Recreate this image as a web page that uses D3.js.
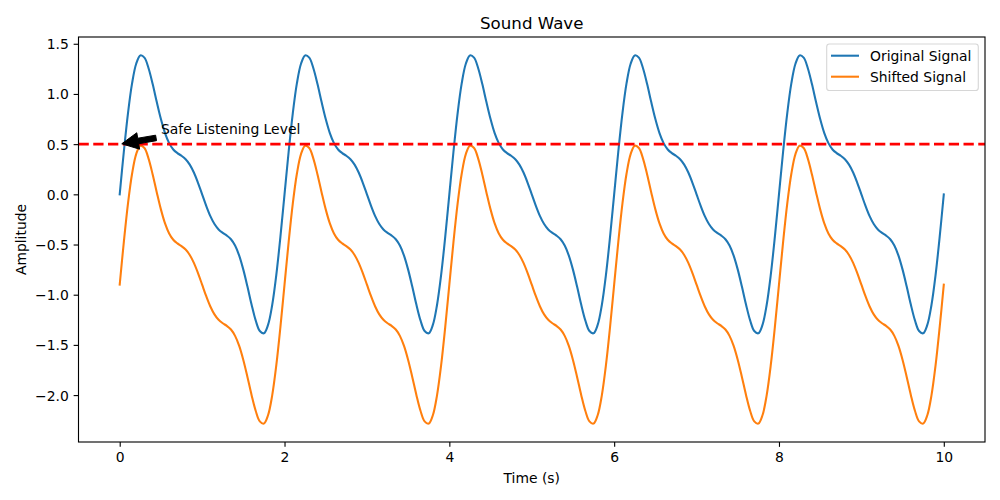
<!DOCTYPE html>
<html>
<head>
<meta charset="utf-8">
<script src="https://cdn.jsdelivr.net/npm/d3@7"></script>
<style>
  html, body { margin: 0; padding: 0; background: #fff; }
  svg { display: block; font-family: "DejaVu Sans", sans-serif; }
</style>
</head>
<body>
<svg id="chart" width="1000" height="500"></svg>
<script>
// ---- data ----
const chartTitle = "Sound Wave";
const xLabel = "Time (s)";
const yLabel = "Amplitude";
const seriesNames = ["Original Signal", "Shifted Signal"];
const seriesColors = ["#1f77b4", "#ff7f0e"];
const timeStart = 0;
const timeStep = 0.05;

const originalSignal = [
  0.000, 0.424, 0.805, 1.105, 1.301, 1.384, 1.362, 1.256, 1.098, 0.919, 0.750, 0.610, 0.510, 0.447, 0.411, 0.384, 0.350, 0.296, 0.217, 0.115,
  0.000, -0.115, -0.217, -0.296, -0.350, -0.384, -0.411, -0.447, -0.510, -0.610, -0.750, -0.919, -1.098, -1.256, -1.362, -1.384, -1.301, -1.105, -0.805, -0.424,
  0.000, 0.424, 0.805, 1.105, 1.301, 1.384, 1.362, 1.256, 1.098, 0.919, 0.750, 0.610, 0.510, 0.447, 0.411, 0.384, 0.350, 0.296, 0.217, 0.115,
  0.000, -0.115, -0.217, -0.296, -0.350, -0.384, -0.411, -0.447, -0.510, -0.610, -0.750, -0.919, -1.098, -1.256, -1.362, -1.384, -1.301, -1.105, -0.805, -0.424,
  0.000, 0.424, 0.805, 1.105, 1.301, 1.384, 1.362, 1.256, 1.098, 0.919, 0.750, 0.610, 0.510, 0.447, 0.411, 0.384, 0.350, 0.296, 0.217, 0.115,
  0.000, -0.115, -0.217, -0.296, -0.350, -0.384, -0.411, -0.447, -0.510, -0.610, -0.750, -0.919, -1.098, -1.256, -1.362, -1.384, -1.301, -1.105, -0.805, -0.424,
  0.000, 0.424, 0.805, 1.105, 1.301, 1.384, 1.362, 1.256, 1.098, 0.919, 0.750, 0.610, 0.510, 0.447, 0.411, 0.384, 0.350, 0.296, 0.217, 0.115,
  0.000, -0.115, -0.217, -0.296, -0.350, -0.384, -0.411, -0.447, -0.510, -0.610, -0.750, -0.919, -1.098, -1.256, -1.362, -1.384, -1.301, -1.105, -0.805, -0.424,
  0.000, 0.424, 0.805, 1.105, 1.301, 1.384, 1.362, 1.256, 1.098, 0.919, 0.750, 0.610, 0.510, 0.447, 0.411, 0.384, 0.350, 0.296, 0.217, 0.115,
  0.000, -0.115, -0.217, -0.296, -0.350, -0.384, -0.411, -0.447, -0.510, -0.610, -0.750, -0.919, -1.098, -1.256, -1.362, -1.384, -1.301, -1.105, -0.805, -0.424,
  0.000
];

const shiftedSignal = [
  -0.900, -0.476, -0.095, 0.205, 0.401, 0.484, 0.462, 0.356, 0.198, 0.019, -0.150, -0.290, -0.390, -0.453, -0.489, -0.516, -0.550, -0.604, -0.683, -0.785,
  -0.900, -1.015, -1.117, -1.196, -1.250, -1.284, -1.311, -1.347, -1.410, -1.510, -1.650, -1.819, -1.998, -2.156, -2.262, -2.284, -2.201, -2.005, -1.705, -1.324,
  -0.900, -0.476, -0.095, 0.205, 0.401, 0.484, 0.462, 0.356, 0.198, 0.019, -0.150, -0.290, -0.390, -0.453, -0.489, -0.516, -0.550, -0.604, -0.683, -0.785,
  -0.900, -1.015, -1.117, -1.196, -1.250, -1.284, -1.311, -1.347, -1.410, -1.510, -1.650, -1.819, -1.998, -2.156, -2.262, -2.284, -2.201, -2.005, -1.705, -1.324,
  -0.900, -0.476, -0.095, 0.205, 0.401, 0.484, 0.462, 0.356, 0.198, 0.019, -0.150, -0.290, -0.390, -0.453, -0.489, -0.516, -0.550, -0.604, -0.683, -0.785,
  -0.900, -1.015, -1.117, -1.196, -1.250, -1.284, -1.311, -1.347, -1.410, -1.510, -1.650, -1.819, -1.998, -2.156, -2.262, -2.284, -2.201, -2.005, -1.705, -1.324,
  -0.900, -0.476, -0.095, 0.205, 0.401, 0.484, 0.462, 0.356, 0.198, 0.019, -0.150, -0.290, -0.390, -0.453, -0.489, -0.516, -0.550, -0.604, -0.683, -0.785,
  -0.900, -1.015, -1.117, -1.196, -1.250, -1.284, -1.311, -1.347, -1.410, -1.510, -1.650, -1.819, -1.998, -2.156, -2.262, -2.284, -2.201, -2.005, -1.705, -1.324,
  -0.900, -0.476, -0.095, 0.205, 0.401, 0.484, 0.462, 0.356, 0.198, 0.019, -0.150, -0.290, -0.390, -0.453, -0.489, -0.516, -0.550, -0.604, -0.683, -0.785,
  -0.900, -1.015, -1.117, -1.196, -1.250, -1.284, -1.311, -1.347, -1.410, -1.510, -1.650, -1.819, -1.998, -2.156, -2.262, -2.284, -2.201, -2.005, -1.705, -1.324,
  -0.900
];

const xTicks = [0, 2, 4, 6, 8, 10];
const yTicks = [-2.0, -1.5, -1.0, -0.5, 0.0, 0.5, 1.0, 1.5];
const safeLevel = 0.5;
const annotationText = "Safe Listening Level";
const annotationPoint = [0, 0.5];
const annotationTextPos = [0.5, 0.6];

// ---- layout ----
const svg = d3.select("#chart");
const plot = { left: 78.5, right: 985, top: 37, bottom: 442 };
const fs = 13.9; // 10pt at 100 dpi

const times = originalSignal.map((_, i) => timeStart + i * timeStep);
const tMin = d3.min(times), tMax = d3.max(times);
const tPad = (tMax - tMin) * 0.05;
const allVals = originalSignal.concat(shiftedSignal);
const vMin = d3.min(allVals), vMax = d3.max(allVals);
const vPad = (vMax - vMin) * 0.05;

const x = d3.scaleLinear().domain([tMin - tPad, tMax + tPad]).range([plot.left, plot.right]);
const y = d3.scaleLinear().domain([vMin - vPad, vMax + vPad]).range([plot.bottom, plot.top]);

const fmtMinus = s => s.replace("-", "\u2212");

// clip
svg.append("defs").append("clipPath").attr("id", "clip")
  .append("rect").attr("x", plot.left).attr("y", plot.top)
  .attr("width", plot.right - plot.left).attr("height", plot.bottom - plot.top);

// lines
const lineGen = vals => d3.line()
  .x((d, i) => x(times[i]))
  .y(d => y(d))
  .curve(d3.curveCatmullRom.alpha(0.5))(vals);

const g = svg.append("g").attr("clip-path", "url(#clip)");
[originalSignal, shiftedSignal].forEach((vals, k) => {
  g.append("path").attr("d", lineGen(vals))
    .attr("fill", "none").attr("stroke", seriesColors[k])
    .attr("stroke-width", 2.08).attr("stroke-linejoin", "round").attr("stroke-linecap", "square");
});

// safe level line
g.append("line")
  .attr("x1", plot.left).attr("x2", plot.right)
  .attr("y1", y(safeLevel)).attr("y2", y(safeLevel))
  .attr("stroke", "red").attr("stroke-width", 2.78)
  .attr("stroke-dasharray", "10.3,4.45");

// axes
const xAxis = d3.axisBottom(x).tickValues(xTicks).tickFormat(d3.format("d")).tickSize(4.86).tickPadding(4.86);
const yAxis = d3.axisLeft(y).tickValues(yTicks).tickFormat(d => fmtMinus(d3.format(".1f")(d))).tickSize(4.86).tickPadding(4.86);

const gx = svg.append("g").attr("transform", `translate(0,${plot.bottom})`).call(xAxis);
const gy = svg.append("g").attr("transform", `translate(${plot.left},0)`).call(yAxis);
[gx, gy].forEach(a => {
  a.select(".domain").remove();
  a.selectAll(".tick line").attr("stroke", "#000").attr("stroke-width", 1.11);
  a.selectAll(".tick text").attr("fill", "#000").attr("font-size", fs).attr("font-family", "DejaVu Sans");
});
gx.selectAll(".tick text").attr("dy", "0.76em");
gy.selectAll(".tick text").attr("dy", "0.36em");

// frame
svg.append("rect")
  .attr("x", plot.left).attr("y", plot.top)
  .attr("width", plot.right - plot.left).attr("height", plot.bottom - plot.top)
  .attr("fill", "none").attr("stroke", "#000").attr("stroke-width", 1.11);

// title and labels
svg.append("text").attr("x", (plot.left + plot.right) / 2).attr("y", 28.5)
  .attr("text-anchor", "middle").attr("font-size", 16.67).text(chartTitle);
svg.append("text").attr("x", (plot.left + plot.right) / 2).attr("y", 483)
  .attr("text-anchor", "middle").attr("font-size", fs).text(xLabel);
svg.append("text")
  .attr("transform", `translate(26,${(plot.top + plot.bottom) / 2}) rotate(-90)`)
  .attr("text-anchor", "middle").attr("font-size", fs).text(yLabel);

// annotation
const ann = svg.append("text")
  .attr("x", x(annotationTextPos[0])).attr("y", y(annotationTextPos[1]))
  .attr("font-size", fs).text(annotationText);
const bb = ann.node().getBBox();
const target = [x(annotationPoint[0]), y(annotationPoint[1])];
const bx0 = bb.x, bx1 = bb.x + bb.width, by0 = bb.y, by1 = bb.y + bb.height;
const pickX = [bx0, (bx0 + bx1) / 2, bx1].reduce((a, b) => Math.abs(b - target[0]) < Math.abs(a - target[0]) ? b : a);
const pickY = [by0, (by0 + by1) / 2, by1].reduce((a, b) => Math.abs(b - target[1]) < Math.abs(a - target[1]) ? b : a);
let start = [pickX, pickY];
// clip by padded text box (pad 2pt)
const pad = 2.78;
const rx0 = bx0 - pad, rx1 = bx1 + pad, ry0 = by0 - pad, ry1 = by1 + pad;
const dx = target[0] - start[0], dy = target[1] - start[1];
let tExit = 1;
if (dx < 0) tExit = Math.min(tExit, (rx0 - start[0]) / dx);
if (dx > 0) tExit = Math.min(tExit, (rx1 - start[0]) / dx);
if (dy < 0) tExit = Math.min(tExit, (ry0 - start[1]) / dy);
if (dy > 0) tExit = Math.min(tExit, (ry1 - start[1]) / dy);
const fullLen = Math.hypot(dx, dy);
const ux = dx / fullLen, uy = dy / fullLen;
const shrink = 0.05 * fullLen;
const tail = [start[0] + dx * tExit + ux * shrink, start[1] + dy * tExit + uy * shrink];
const tip = [target[0] - ux * shrink, target[1] - uy * shrink];
const nx = -uy, ny = ux;
const headLen = 16.67, headW = 16.67, tailW = 5.56;
const hb = [tip[0] - ux * headLen, tip[1] - uy * headLen];
const pts = [
  [tail[0] + nx * tailW / 2, tail[1] + ny * tailW / 2],
  [hb[0] + nx * tailW / 2, hb[1] + ny * tailW / 2],
  [hb[0] + nx * headW / 2, hb[1] + ny * headW / 2],
  tip,
  [hb[0] - nx * headW / 2, hb[1] - ny * headW / 2],
  [hb[0] - nx * tailW / 2, hb[1] - ny * tailW / 2],
  [tail[0] - nx * tailW / 2, tail[1] - ny * tailW / 2]
];
svg.append("polygon").attr("points", pts.map(p => p.join(",")).join(" "))
  .attr("fill", "#000").attr("stroke", "#000").attr("stroke-width", 1.0).attr("stroke-linejoin", "miter");

// legend
const lg = svg.append("g");
lg.append("rect").attr("x", 826.7).attr("y", 44).attr("width", 151.6).attr("height", 46.5)
  .attr("rx", 2.8).attr("ry", 2.8)
  .attr("fill", "#fff").attr("fill-opacity", 0.8)
  .attr("stroke", "#cccccc").attr("stroke-opacity", 0.8).attr("stroke-width", 1.11);
seriesNames.forEach((name, i) => {
  const cy = 55.7 + i * 21;
  lg.append("line").attr("x1", 831).attr("x2", 859).attr("y1", cy).attr("y2", cy)
    .attr("stroke", seriesColors[i]).attr("stroke-width", 2.08);
  lg.append("text").attr("x", 870).attr("y", cy).attr("dy", "0.36em")
    .attr("font-size", fs).text(name);
});
</script>
</body>
</html>
